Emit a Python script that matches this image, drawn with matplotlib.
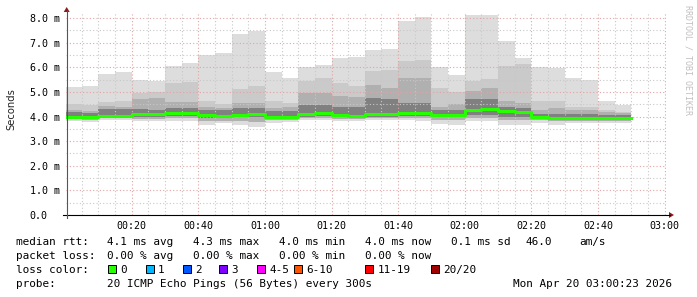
import numpy as np
import matplotlib
matplotlib.use('Agg')
import matplotlib.pyplot as plt
from matplotlib.patches import Rectangle, Polygon
from matplotlib.lines import Line2D

W, H = 697, 297

# ping round-trip times, ms, one value per 5-minute step (00:00 .. 02:45 step starts)
ping_max = [5.20, 5.24, 5.73, 5.81, 5.49, 5.45, 6.06, 6.17, 6.50, 6.57, 7.36, 7.48,
            5.82, 5.55, 6.02, 6.09, 6.39, 6.43, 6.71, 6.75, 7.88, 8.04, 6.02, 5.69,
            8.14, 8.14, 7.07, 6.38, 6.01, 5.98, 5.55, 5.50, 4.63, 4.48]
ping_hi2 = [4.50, 4.48, 4.60, 4.62, 4.95, 5.00, 5.38, 5.41, 4.61, 4.50, 5.12, 5.24,
            4.63, 4.54, 5.46, 5.58, 5.35, 5.22, 5.83, 5.89, 6.24, 6.30, 5.15, 4.98,
            5.46, 5.53, 6.06, 6.14, 4.61, 4.61, 4.38, 4.38, 4.27, 4.20]
ping_hi3 = [4.28, 4.22, 4.44, 4.40, 4.70, 4.74, 4.57, 4.57, 4.40, 4.35, 4.55, 4.55,
            4.35, 4.40, 4.95, 4.95, 4.85, 4.78, 5.29, 5.17, 5.55, 5.55, 4.40, 4.50,
            5.02, 5.15, 4.65, 4.54, 4.27, 4.34, 4.27, 4.27, 4.18, 4.15]
ping_hi4 = [4.18, 4.15, 4.30, 4.32, 4.30, 4.27, 4.34, 4.34, 4.27, 4.25, 4.34, 4.34,
            4.22, 4.22, 4.45, 4.45, 4.40, 4.40, 4.74, 4.70, 4.54, 4.54, 4.27, 4.27,
            4.70, 4.70, 4.40, 4.34, 4.12, 4.10, 4.10, 4.10, 4.08, 4.06]
median_rtt = [3.99, 3.98, 4.03, 4.03, 4.09, 4.10, 4.16, 4.16, 4.08, 4.02, 4.08, 4.10,
              3.99, 3.99, 4.10, 4.16, 4.05, 4.01, 4.09, 4.09, 4.13, 4.14, 4.08, 4.05,
              4.28, 4.32, 4.24, 4.20, 3.99, 3.95, 3.95, 3.95, 3.95, 3.95]
ping_lo4 = [3.93, 3.92, 3.96, 3.96, 4.00, 4.00, 4.02, 4.02, 3.95, 3.94, 3.96, 3.96,
            3.92, 3.92, 4.00, 4.02, 3.98, 3.95, 4.00, 4.00, 4.02, 4.02, 3.96, 3.96,
            4.05, 4.05, 4.00, 4.00, 3.92, 3.88, 3.88, 3.88, 3.88, 3.88]
ping_lo3 = [3.88, 3.87, 3.92, 3.92, 3.90, 3.90, 3.92, 3.92, 3.80, 3.82, 3.80, 3.78,
            3.84, 3.84, 3.92, 3.92, 3.90, 3.88, 3.92, 3.92, 3.92, 3.92, 3.84, 3.84,
            3.94, 3.94, 3.85, 3.85, 3.84, 3.80, 3.82, 3.82, 3.82, 3.82]
ping_min = [3.80, 3.78, 3.86, 3.86, 3.82, 3.82, 3.82, 3.82, 3.66, 3.72, 3.66, 3.59,
            3.74, 3.77, 3.84, 3.84, 3.82, 3.80, 3.84, 3.84, 3.84, 3.82, 3.68, 3.66,
            3.82, 3.82, 3.66, 3.66, 3.72, 3.66, 3.72, 3.72, 3.72, 3.72]

time_labels = ['00:20', '00:40', '01:00', '01:20', '01:40', '02:00', '02:20', '02:40', '03:00']
y_labels = ['0.0', '1.0 m', '2.0 m', '3.0 m', '4.0 m', '5.0 m', '6.0 m', '7.0 m', '8.0 m']

loss_colors = ['#26ff00', '#00b8ff', '#0059ff', '#7e00ff', '#ff00ff', '#ff5500', '#ff0000', '#a10000']
loss_names = ['0', '1', '2', '3', '4-5', '6-10', '11-19', '20/20']

mono = 'DejaVu Sans Mono'


def fx(x):
	return x / W


def fy(y):
	return 1 - y / H


fig = plt.figure(figsize=(W / 100, H / 100), dpi=100)
fig.patch.set_facecolor('white')

left, right, top, bottom = 66.4, 665.8, 13.1, 215
ax = fig.add_axes([fx(left), fy(bottom), (right - left) / W, (bottom - top) / H])
ax.set_facecolor('white')

# step edges in minutes after 00:00
edges = np.arange(0, 5 * len(median_rtt) + 1, 5)


def ext(v):
	return list(v) + [v[-1]]


# smoke, outer (light) to inner (dark)
levels = [
	(ping_min, ping_max, '#dddddd'),
	(ping_lo3, ping_hi2, '#cacaca'),
	(ping_lo3, ping_hi3, '#b0b0b0'),
	(ping_lo4, ping_hi4, '#808080'),
]
for lo, hi, col in levels:
	ax.fill_between(edges, ext(lo), ext(hi), step='post', color=col, linewidth=0, zorder=1)

ax.step(edges, ext(median_rtt), where='post', color=loss_colors[0], linewidth=2.2, zorder=4)

ax.set_xlim(0.383, 180.383)
ax.set_ylim(0, 8.2)

ax.set_xticks(np.arange(20, 181, 20))
ax.set_xticklabels(time_labels)
ax.set_xticks(np.arange(5, 181, 5), minor=True)
ax.set_yticks(np.arange(0, 9, 1))
ax.set_yticklabels(y_labels)
ax.set_yticks(np.arange(0.5, 8.2, 0.5), minor=True)

ax.tick_params(which='both', length=0)
ax.tick_params(axis='x', pad=4.5, labelsize=7.2)
ax.tick_params(axis='y', pad=26.4, labelsize=7.2)
for lbl in ax.get_xticklabels() + ax.get_yticklabels():
	lbl.set_family(mono)
for lbl in ax.get_yticklabels():
	lbl.set_ha('left')

ax.set_axisbelow(False)
ax.grid(which='minor', color='#c8c8c8', linestyle=(0, (1, 2)), linewidth=0.8, zorder=2)
ax.grid(which='major', color='#e3a3a3', linestyle=(0, (1, 2)), linewidth=0.8, zorder=2)
for s in ax.spines.values():
	s.set_visible(False)

# axis lines and arrows
fig.add_artist(Line2D([fx(62.7), fx(670)], [fy(215), fy(215)], color='black', linewidth=0.8))
fig.add_artist(Line2D([fx(66.7), fx(66.7)], [fy(218), fy(11)], color='#555555', linewidth=0.8))
fig.add_artist(Polygon([(fx(63.7), fy(12)), (fx(69.7), fy(12)), (fx(66.7), fy(7))],
                       closed=True, color='#8b1a1a', linewidth=0))
fig.add_artist(Polygon([(fx(669), fy(212)), (fx(669), fy(218)), (fx(674), fy(215))],
                       closed=True, color='#8b1a1a', linewidth=0))

fig.text(fx(11), fy(109), 'Seconds', rotation=90, ha='center', va='center', fontsize=7.2, color='#222222')
fig.text(fx(688), fy(60), 'RRDTOOL / TOBI OETIKER', rotation=270, ha='center', va='center',
         fontsize=6, family=mono, color='#c0c0c0')

# legend block
fs = 7.9
rows = [
	[(16, 'median rtt:'), (107, '4.1 ms avg'), (193, '4.3 ms max'), (279, '4.0 ms min'),
	 (365, '4.0 ms now'), (451, '0.1 ms sd'), (526, '46.0'), (579, 'am/s')],
	[(16, 'packet loss:'), (107, '0.00 % avg'), (193, '0.00 % max'), (279, '0.00 % min'),
	 (365, '0.00 % now')],
	[(16, 'loss color:')],
	[(16, 'probe:'), (107, '20 ICMP Echo Pings (56 Bytes) every 300s'),
	 (513, 'Mon Apr 20 03:00:23 2026')],
]
for i, row in enumerate(rows):
	base = 245 + 14 * i
	for x, t in row:
		fig.text(fx(x), fy(base), t, ha='left', va='baseline', fontsize=fs, family=mono, color='black')

sq_x = [108, 145.7, 182.7, 219.3, 256.7, 294, 365, 430.7]
for x, col, name in zip(sq_x, loss_colors, loss_names):
	fig.add_artist(Rectangle((fx(x), fy(273)), 8 / W, 8 / H, facecolor=col, edgecolor='black', linewidth=0.7))
	fig.text(fx(x + 12.3), fy(273), name, ha='left', va='baseline', fontsize=fs, family=mono, color='black')

fig.savefig('out.png', dpi=100)
